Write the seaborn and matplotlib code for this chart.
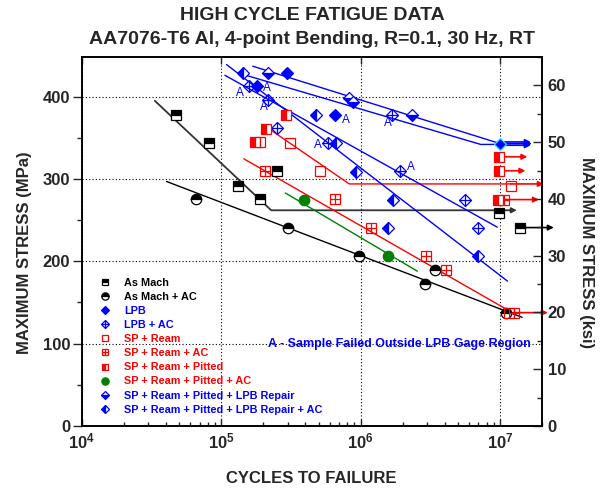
import math
import matplotlib
matplotlib.use("Agg")
import matplotlib.pyplot as plt
from matplotlib.lines import Line2D
from matplotlib.ticker import MultipleLocator, FixedLocator, FuncFormatter, NullFormatter
import seaborn as sns

# Data (cycles to failure, max stress in MPa)
as_mach_n = [4.7e4, 8.1e4, 1.31e5, 1.9e5, 2.49e5, 9.9e6, 1.38e7]
as_mach_s = [378, 344, 292, 276, 310, 259, 241]

as_mach_ac_n = [6.6e4, 3.0e5, 9.8e5, 2.9e6, 3.4e6, 1.1e7]
as_mach_ac_s = [276, 241, 206, 172, 190, 137]

lpb_n = [1.8e5, 2.95e5, 6.5e5, 1.0e7]
lpb_s = [413, 429, 378, 343]

lpb_ac_n = [1.59e5, 2.16e5, 2.5e5, 5.8e5, 1.69e6, 1.92e6, 5.6e6, 7.0e6]
lpb_ac_s = [413, 396, 362, 344, 378, 310, 275, 241]

sp_ream_n = [3.13e5, 5.12e5, 1.19e7, 1.15e7]
sp_ream_s = [344, 310, 292, 137]

sp_ream_ac_n = [2.07e5, 6.5e5, 1.19e6, 2.93e6, 4.07e6, 1.07e7, 1.26e7]
sp_ream_ac_s = [310, 276, 241, 206, 190, 275, 137]

pitted_n = [1.73e5, 1.88e5, 2.1e5, 2.92e5, 9.8e6, 9.8e6, 9.7e6]
pitted_s = [345, 345, 361, 378, 327, 310, 275]

pitted_ac_n = [3.9e5, 1.58e6]
pitted_ac_s = [275, 206]

repair_n = [2.16e5, 8.3e5, 8.8e5, 2.35e6]
repair_s = [429, 398, 393, 378]

repair_ac_n = [1.43e5, 4.8e5, 6.6e5, 9.25e5, 1.71e6, 1.56e6, 6.9e6]
repair_ac_s = [429, 378, 344, 309, 275, 241, 206]

# fitted curves
fit_as_mach_n = [3.33e4, 2.28e5, 1.25e7]
fit_as_mach_s = [395, 262, 262]
fit_as_mach_ac_n = [4.04e4, 1.44e7]
fit_as_mach_ac_s = [297, 132]
fit_sp_ream_n = [1.99e5, 8.28e5, 1.19e7]
fit_sp_ream_s = [366, 294, 294]
fit_sp_ream_ac_n = [1.45e5, 1.16e7]
fit_sp_ream_ac_s = [324.5, 140]
fit_pitted_ac_n = [2.88e5, 2.55e6]
fit_pitted_ac_s = [283, 188]
fit_blue = [
    ([1.68e5, 1.0e7], [437, 343]),
    ([1.43e5, 7.26e6, 1.0e7], [427, 342, 342]),
    ([1.09e5, 1.13e7], [439, 176]),
    ([1.06e5, 9.55e6], [426, 241.5]),
]

# run-out arrows: start, end, stress, colour
run_start = [1.0e7, 1.0e7, 1.0e7, 9.8e6, 9.8e6, 9.7e6, 1.19e7, 1.16e7, 1.2e7, 1.38e7]
run_end = [1.69e7, 1.66e7, 1.66e7, 1.57e7, 1.52e7, 1.9e7, 2.06e7, 2.2e7, 1.32e7, 2.43e7]
run_s = [343, 341, 345, 327, 310, 275, 294, 137.7, 262, 241]
run_col = ['blue', 'blue', 'blue', 'red', 'red', 'red', 'red', 'red', '#333333', 'black']

# "A" = failed outside LPB gage region
a_n = [1.35e5, 2.13e5, 2.01e5, 7.85e5, 1.56e6, 4.91e5, 2.29e6]
a_s = [404, 410, 387, 372, 368, 341, 314]

KSI = 6.895
MS_SQ, MS_CI, MS_DI = 6.5, 7.5, 6.3

sns.set_style("ticks")
plt.rcParams['font.family'] = ['Liberation Sans', 'DejaVu Sans']
plt.rcParams['font.weight'] = 'bold'
plt.rcParams['mathtext.fontset'] = 'custom'
plt.rcParams['mathtext.rm'] = 'Liberation Sans:bold'
plt.rcParams['mathtext.bf'] = 'Liberation Sans:bold'

fig = plt.figure(figsize=(6.05, 4.97), dpi=100)
ax = fig.add_axes([82 / 605, 1 - 426 / 497, 460 / 605, 369 / 497])
ax.set_xscale('log')
ax.set_xlim(1e4, 2e7)
ax.set_ylim(0, 65 * KSI)


def line(x, y, color, lw=1.0):
    sns.lineplot(x=x, y=y, ax=ax, estimator=None, sort=False, color=color, lw=lw, zorder=2)


def pts(x, y, marker, color, fill='full', ms=6, mec=None):
    sns.lineplot(x=x, y=y, ax=ax, estimator=None, sort=False, linestyle='none',
                 marker=marker, markersize=ms, color=color, fillstyle=fill,
                 markerfacecoloralt='white', markeredgecolor=mec or color,
                 markeredgewidth=0.9, zorder=5)


line(fit_as_mach_n, fit_as_mach_s, '#333333', 1.3)
line(fit_as_mach_ac_n, fit_as_mach_ac_s, 'black')
line(fit_sp_ream_n, fit_sp_ream_s, 'red')
line(fit_sp_ream_ac_n, fit_sp_ream_ac_s, 'red')
line(fit_pitted_ac_n, fit_pitted_ac_s, 'green')
for bx, by in fit_blue:
    line(bx, by, 'blue')

for x0, x1, s, c in zip(run_start, run_end, run_s, run_col):
    ax.annotate('', xy=(x1, s), xytext=(x0, s), annotation_clip=False,
                arrowprops=dict(arrowstyle='-|>', color=c, lw=1.2, mutation_scale=8,
                                shrinkA=0, shrinkB=0))

pts(as_mach_n, as_mach_s, 's', 'black', fill='top', ms=MS_SQ)
pts(as_mach_ac_n, as_mach_ac_s, 'o', 'black', fill='top', ms=MS_CI)
pts(lpb_n[:-1], lpb_s[:-1], 'D', 'blue', ms=MS_DI)
pts(lpb_n[-1:], lpb_s[-1:], 'D', 'blue', ms=MS_DI, mec='#33ddff')
pts(lpb_ac_n, lpb_ac_s, 'D', 'blue', fill='none', ms=MS_DI)
pts(lpb_ac_n, lpb_ac_s, '+', 'blue', ms=MS_DI * 1.41)
pts(sp_ream_n, sp_ream_s, 's', 'red', fill='none', ms=MS_SQ)
pts(sp_ream_ac_n, sp_ream_ac_s, 's', 'red', fill='none', ms=MS_SQ)
pts(sp_ream_ac_n, sp_ream_ac_s, '+', 'red', ms=MS_SQ)
pts(pitted_n, pitted_s, 's', 'red', fill='left', ms=MS_SQ)
pts(pitted_ac_n, pitted_ac_s, 'o', 'green', ms=MS_CI)
pts(repair_n, repair_s, 'D', 'blue', fill='bottom', ms=MS_DI)
pts(repair_ac_n, repair_ac_s, 'D', 'blue', fill='left', ms=MS_DI)

for n, s in zip(a_n, a_s):
    ax.text(n, s, 'A', color='blue', fontsize=8.5, fontweight='normal', ha='center', va='center')
ax.text(1.9e6, 100, 'A - Sample Failed Outside LPB Gage Region', color='blue',
        fontsize=9, fontweight='bold', ha='center', va='center')

# axes styling
ax.grid(True, which='major', ls=(0, (1, 2)), color='black', lw=0.8)
ax.yaxis.set_major_locator(MultipleLocator(100))
ax.yaxis.set_minor_locator(MultipleLocator(50))
ax.xaxis.set_major_locator(FixedLocator([1e4, 1e5, 1e6, 1e7]))
ax.xaxis.set_major_formatter(FuncFormatter(lambda v, p: r'$\mathbf{10^{%d}}$' % round(math.log10(v))))
ax.xaxis.set_minor_formatter(NullFormatter())
ax.tick_params(axis='y', which='both', direction='out', left=True, right=False, labelsize=12, pad=2)
ax.tick_params(axis='y', which='major', length=6.5, width=1)
ax.tick_params(axis='y', which='minor', length=3.5, width=1)
ax.tick_params(axis='x', which='both', direction='in', bottom=True, top=True, labelsize=12, pad=4)
ax.tick_params(axis='x', which='major', length=5, width=1)
ax.tick_params(axis='x', which='minor', length=3, width=1, top=False)
for sp in ax.spines.values():
    sp.set_color('black')
    sp.set_linewidth(1.2)

ax.set_xlabel('CYCLES TO FAILURE', fontsize=12, fontweight='bold')
ax.xaxis.label.set_va('center')
ax.xaxis.set_label_coords(0.499, -0.141)
ax.set_ylabel('MAXIMUM STRESS (MPa)', fontsize=12, fontweight='bold')
ax.yaxis.label.set_va('center')
ax.yaxis.set_label_coords(-0.124, 0.469)

ax2 = ax.twinx()
ax2.set_ylim(0, 65)
ax2.yaxis.set_major_locator(MultipleLocator(10))
ax2.yaxis.set_minor_locator(MultipleLocator(5))
ax2.tick_params(axis='y', which='both', direction='in', labelsize=12, pad=4)
ax2.tick_params(axis='y', which='major', length=6.5, width=1)
ax2.tick_params(axis='y', which='minor', length=3.5, width=1)
for sp in ax2.spines.values():
    sp.set_color('black')
    sp.set_linewidth(1.2)
ax2.set_ylabel('MAXIMUM STRESS (ksi)', fontsize=12, fontweight='bold', rotation=270)
ax2.yaxis.label.set_va('center')
ax2.yaxis.label.set_ha('center')
ax2.yaxis.set_label_coords(1.097, 0.469)

# legend
labels = ['As Mach', 'As Mach + AC', 'LPB', 'LPB + AC', 'SP + Ream', 'SP + Ream + AC',
          'SP + Ream + Pitted', 'SP + Ream + Pitted + AC', 'SP + Ream + Pitted + LPB Repair',
          'SP + Ream + Pitted + LPB Repair + AC']
label_colors = ['black', 'black', 'blue', 'blue', 'red', 'red', 'red', 'red', 'blue', 'blue']


def h(marker, color, fill='full', ms=6):
    return Line2D([], [], ls='none', marker=marker, color=color, fillstyle=fill,
                  markerfacecoloralt='white', markeredgecolor=color, markersize=ms,
                  markeredgewidth=0.9)


handles = [h('s', 'black', 'top'), h('o', 'black', 'top', 7), h('D', 'blue', ms=5.6),
           (h('D', 'blue', 'none', 5.6), h('+', 'blue', ms=7.9)), h('s', 'red', 'none'),
           (h('s', 'red', 'none'), h('+', 'red')), h('s', 'red', 'left'), h('o', 'green', ms=7),
           h('D', 'blue', 'bottom', 5.6), h('D', 'blue', 'left', 5.6)]
ax.legend(handles, labels, loc='upper left', bbox_to_anchor=(0.0385, 0.402), frameon=False,
          prop={'size': 7.8, 'weight': 'bold'}, labelcolor=label_colors, handlelength=1.0,
          handletextpad=1.25, labelspacing=0.38, borderpad=0, borderaxespad=0, markerscale=0.75)

fig.text(312 / 605, 1 - 16 / 497, 'HIGH CYCLE FATIGUE DATA', ha='center', va='center',
         fontsize=14, fontweight='bold')
fig.text(312 / 605, 1 - 39 / 497, 'AA7076-T6 Al, 4-point Bending, R=0.1, 30 Hz, RT',
         ha='center', va='center', fontsize=14, fontweight='bold')

fig.savefig('out.png', dpi=100)
